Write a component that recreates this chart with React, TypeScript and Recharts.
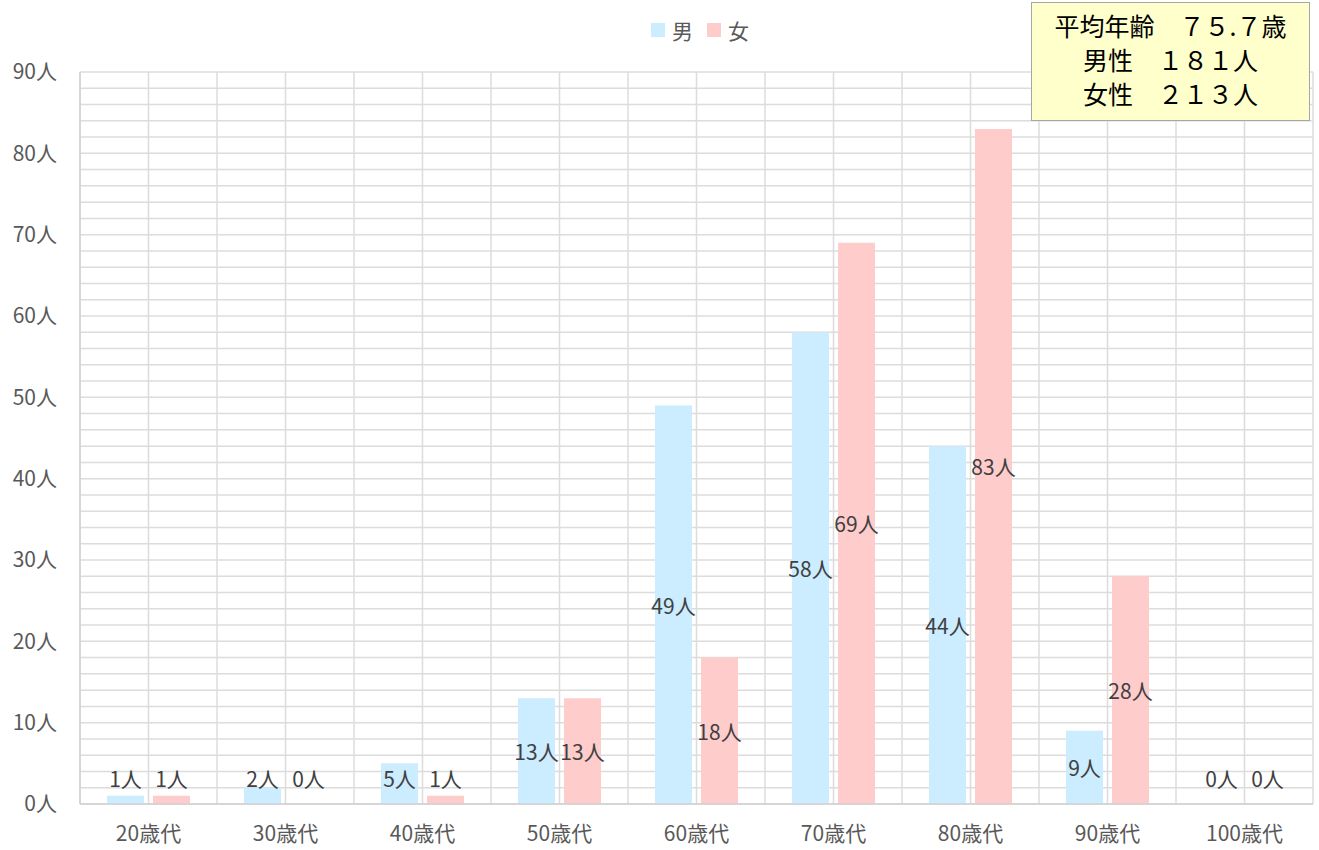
import React from 'react';
import { BarChart, Bar, XAxis, YAxis, CartesianGrid, LabelList } from 'recharts';

// 年代別の人数
const categories = ['20歳代', '30歳代', '40歳代', '50歳代', '60歳代', '70歳代', '80歳代', '90歳代', '100歳代'];
const maleCounts = [1, 2, 5, 13, 49, 58, 44, 9, 0];
const femaleCounts = [1, 0, 1, 13, 18, 69, 83, 28, 0];
const seriesNames = ['男', '女'];
const yTicks = [0, 2, 4, 6, 8, 10, 12, 14, 16, 18, 20, 22, 24, 26, 28, 30, 32, 34, 36, 38, 40, 42, 44, 46, 48, 50, 52, 54, 56, 58, 60, 62, 64, 66, 68, 70, 72, 74, 76, 78, 80, 82, 84, 86, 88, 90];
const summaryLines = ['平均年齢　７５.７歳', '男性　１８１人', '女性　２１３人'];

const MALE_COLOR = '#CCECFF';
const FEMALE_COLOR = '#FFCCCC';
const FONT = '"Noto Sans CJK JP", "Noto Sans", sans-serif';

const data = categories.map((c, i) => ({ name: c, male: maleCounts[i], female: femaleCounts[i] }));

const BarLabel = (props: any) => {
  const { x, y, width, height, value } = props;
  const bottom = Number(y) + Number(height);
  const cy = Math.min(Number(y) + Number(height) / 2, bottom - 26);
  return (
    <text
      x={Number(x) + Number(width) / 2}
      y={cy}
      textAnchor="middle"
      dominantBaseline="central"
      fontSize={21}
      fill="#404040"
      fontFamily={FONT}
    >
      {value}人
    </text>
  );
};

// keep zero bars in the layout so their labels still get drawn
const tinyForZero = (v: any) => (Number(v) === 0 ? 0.01 : 0);

export default function App() {
  return (
    <div style={{ position: 'absolute', left: 0, top: 0, width: 1319, height: 850, background: '#fff', fontFamily: FONT }}>
      <BarChart
        width={1319}
        height={850}
        data={data}
        margin={{ top: 72, right: 6, bottom: 0, left: 0 }}
        barSize={37}
        barGap={9}
      >
        <CartesianGrid
          stroke="#DCDCDC"
          strokeWidth={1.5}
          verticalCoordinatesGenerator={({ offset }: any) =>
            Array.from({ length: 19 }, (_, i) => offset.left + (offset.width * i) / 18)
          }
        />
        <XAxis
          dataKey="name"
          height={46}
          tickLine={false}
          tickSize={0}
          tickMargin={22}
          axisLine={{ stroke: '#D0D0D0', strokeWidth: 1.5 }}
          tick={{ fontSize: 21, fill: '#595959', fontFamily: FONT }}
        />
        <YAxis
          width={80}
          domain={[0, 90]}
          ticks={yTicks}
          interval={0}
          tickLine={false}
          tickSize={0}
          tickMargin={23}
          axisLine={{ stroke: '#D0D0D0', strokeWidth: 1.5 }}
          tickFormatter={(v: number) => (v % 10 === 0 ? `${v}人` : '')}
          tick={{ fontSize: 21, fill: '#595959', fontFamily: FONT }}
        />
        <Bar dataKey="male" name={seriesNames[0]} fill={MALE_COLOR} minPointSize={tinyForZero} isAnimationActive={false}>
          <LabelList dataKey="male" content={BarLabel} />
        </Bar>
        <Bar dataKey="female" name={seriesNames[1]} fill={FEMALE_COLOR} minPointSize={tinyForZero} isAnimationActive={false}>
          <LabelList dataKey="female" content={BarLabel} />
        </Bar>
      </BarChart>

      <div style={{ position: 'absolute', left: 651, top: 15, display: 'flex', alignItems: 'center', fontSize: 21, color: '#595959' }}>
        {seriesNames.map((n, i) => (
          <div key={n} style={{ display: 'flex', alignItems: 'center', marginRight: 14 }}>
            <span style={{ width: 14, height: 14, background: i === 0 ? MALE_COLOR : FEMALE_COLOR, marginRight: 7, display: 'inline-block' }} />
            <span>{n}</span>
          </div>
        ))}
      </div>

      <div
        style={{
          position: 'absolute',
          left: 1031,
          top: 2,
          width: 277,
          height: 117,
          boxSizing: 'content-box',
          background: '#FFFFCC',
          border: '1px solid #A6A6A6',
          display: 'flex',
          flexDirection: 'column',
          justifyContent: 'center',
          alignItems: 'center',
          fontSize: 25,
          lineHeight: '34px',
          paddingBottom: 0,
          color: '#000',
        }}
      >
        <div style={{ marginTop: -6 }}>
          {summaryLines.map((l) => (
            <div key={l} style={{ textAlign: 'center' }}>{l}</div>
          ))}
        </div>
      </div>
    </div>
  );
}
